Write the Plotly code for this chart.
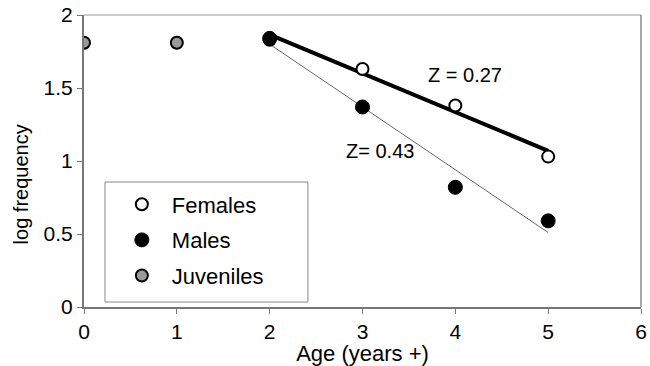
import numpy as np
import plotly.graph_objects as go

# Data
juv_age = [0, 1]
juv_logf = [1.81, 1.81]
fem_age = [2, 3, 4, 5]
fem_logf = [1.83, 1.63, 1.38, 1.03]
male_age = [2, 3, 4, 5]
male_logf = [1.84, 1.37, 0.82, 0.59]
x_ticks = [0, 1, 2, 3, 4, 5, 6]
y_ticks = [0, 0.5, 1, 1.5, 2]
y_tick_labels = ["0", "0.5", "1", "1.5", "2"]

FONT = "Liberation Sans, Arial, sans-serif"

fb = np.polyfit(fem_age, fem_logf, 1)
mb = np.polyfit(male_age, male_logf, 1)
fit_x = [fem_age[0], fem_age[-1]]

fig = go.Figure()
fig.add_trace(go.Scatter(x=fit_x, y=np.polyval(mb, fit_x), mode="lines",
                         line=dict(color="#666666", width=1), showlegend=False, hoverinfo="skip"))
fig.add_trace(go.Scatter(x=fit_x, y=np.polyval(fb, fit_x), mode="lines",
                         line=dict(color="black", width=4), showlegend=False, hoverinfo="skip"))

fig.add_trace(go.Scatter(x=fem_age, y=fem_logf, mode="markers", name="Females", legendgroup="f",
                         marker=dict(symbol="circle", size=12, color="white",
                                     line=dict(color="black", width=2))))
fig.add_trace(go.Scatter(x=male_age, y=male_logf, mode="markers", name="Males", legendgroup="m",
                         marker=dict(symbol="circle", size=14, color="black",
                                     line=dict(color="black", width=1))))
fig.add_trace(go.Scatter(x=juv_age, y=juv_logf, mode="markers", name="Juveniles", legendgroup="j",
                         marker=dict(symbol="circle", size=12, color="#9a9a9a",
                                     line=dict(color="black", width=2))))

fig.add_annotation(x=4.1, y=1.59, text="Z = 0.27", showarrow=False,
                   font=dict(family=FONT, size=20, color="black"))
fig.add_annotation(x=3.19, y=1.07, text="Z= 0.43", showarrow=False,
                   font=dict(family=FONT, size=20, color="black"))
# y-axis title (placed as in the reference, below the plot centre)
fig.add_annotation(xref="paper", yref="paper", x=-0.113, y=0.42, text="log frequency",
                   textangle=-90, showarrow=False, xanchor="center", yanchor="middle",
                   font=dict(family=FONT, size=20, color="black"))

fig.update_layout(
    width=650, height=366,
    margin=dict(l=84, r=9, t=15, b=59, autoexpand=False),
    paper_bgcolor="white", plot_bgcolor="white",
    font=dict(family=FONT, size=21, color="black"),
    legend=dict(x=0.05, y=0.423, xanchor="left", yanchor="top",
                borderwidth=0, bgcolor="rgba(0,0,0,0)",
                font=dict(family=FONT, size=22), tracegroupgap=4,
                itemwidth=50),
    showlegend=True,
)
fig.update_xaxes(range=[0, 6], tickvals=x_ticks, ticks="outside", ticklen=5,
                 tickcolor="#777777", showline=True, linecolor="#777777", linewidth=2,
                 mirror=False, showgrid=False, zeroline=False, automargin=False,
                 title=dict(text="Age (years +)", font=dict(size=22), standoff=0),
                 tickfont=dict(size=21))
fig.update_yaxes(range=[0, 2], tickvals=y_ticks, ticktext=y_tick_labels, ticks="outside",
                 ticklen=5, tickcolor="#777777", showline=True, linecolor="#777777",
                 linewidth=2, mirror=False, showgrid=False, zeroline=False, automargin=False,
                 tickfont=dict(size=21))
fig.add_shape(type="line", xref="paper", yref="paper", x0=0, x1=1, y0=1, y1=1,
              line=dict(color="#999999", width=1))
fig.add_shape(type="line", xref="paper", yref="paper", x0=1, x1=1, y0=0, y1=1,
              line=dict(color="#555555", width=1))
# legend frame
fig.add_shape(type="rect", xref="paper", yref="paper", x0=0.0377, x1=0.402, y0=0.017, y1=0.428,
              line=dict(color="#888888", width=1), fillcolor="white", layer="below")

fig.write_html("out.html")
